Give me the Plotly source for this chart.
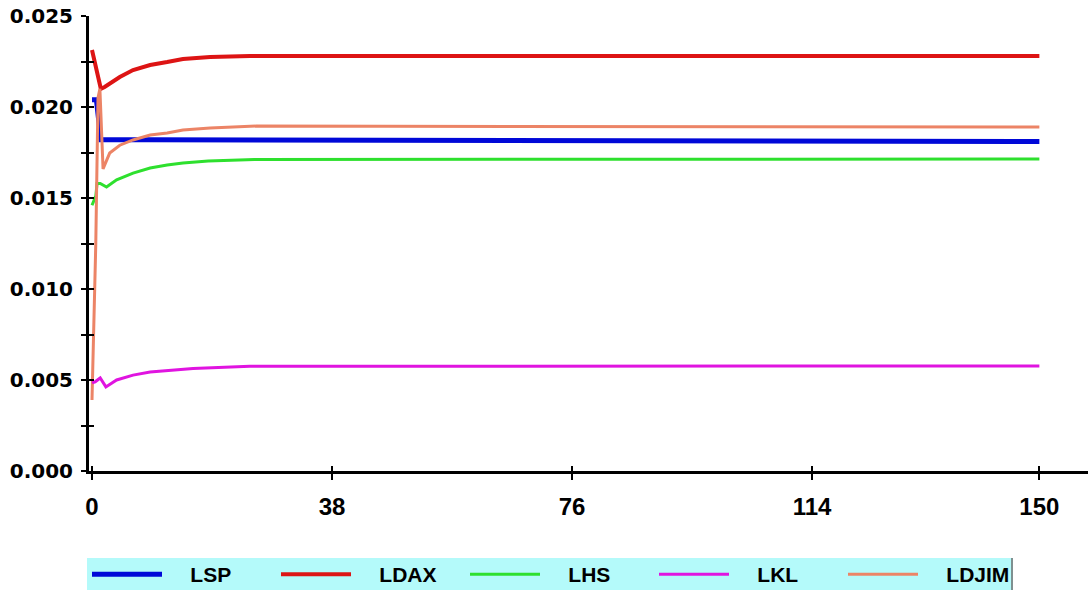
import plotly.graph_objects as go

# ---- data ----
lsp_t = [0, 0.7, 1.4, 9.0, 150]
lsp_v = [0.0204, 0.0204, 0.0182, 0.0182, 0.0181]

ldax_t = [0, 0.5, 1.0, 1.4, 2.0, 3.2, 4.4, 6.5, 9.2, 11.9, 14.4, 18.7, 25, 150]
ldax_v = [0.02313, 0.0223, 0.0216, 0.0210, 0.0211, 0.02137, 0.02165, 0.02203,
          0.02231, 0.02247, 0.02264, 0.02275, 0.0228, 0.0228]

lhs_t = [0, 0.3, 0.6, 0.8, 1.3, 2.3, 3.9, 6.5, 9.2, 11.9, 14.4, 18.4, 25.7, 150]
lhs_v = [0.0146, 0.0149, 0.0151, 0.0158, 0.0158, 0.0156, 0.0160, 0.01637,
         0.01665, 0.01681, 0.01692, 0.01703, 0.01712, 0.01714]

lkl_t = [0, 0.5, 1.3, 2.2, 3.9, 6.5, 9.2, 11.9, 16, 25, 150]
lkl_v = [0.00484, 0.0049, 0.00511, 0.00462, 0.0050, 0.00527, 0.00544,
         0.0055, 0.00563, 0.00575, 0.00577]

ldjim_t = [0, 0.25, 0.6, 0.95, 1.25, 1.75, 2.8, 4.4, 6.5, 9.2, 11.9, 14.4, 18.7, 26, 150]
ldjim_v = [0.0039, 0.0075, 0.0125, 0.0205, 0.0210, 0.0166, 0.01747, 0.0179,
           0.01819, 0.01846, 0.01857, 0.01874, 0.01885, 0.01895, 0.0189]

x_ticks = [0, 38, 76, 114, 150]
y_ticks = [0.000, 0.005, 0.010, 0.015, 0.020, 0.025]
y_tick_labels = ["0.000", "0.005", "0.010", "0.015", "0.020", "0.025"]

# (name, t, values, colour, width, axes) - LKL is drawn on the overlaid twin
# axes (identical ranges) so that the inside half of the crossing ticks is drawn
series = [
    ("LSP", lsp_t, lsp_v, "#0008d8", 5, ("x", "y")),
    ("LDAX", ldax_t, ldax_v, "#dd1414", 4, ("x", "y")),
    ("LHS", lhs_t, lhs_v, "#2ee02e", 3, ("x", "y")),
    ("LKL", lkl_t, lkl_v, "#e014e0", 3, ("x2", "y2")),
    ("LDJIM", ldjim_t, ldjim_v, "#ec8466", 3, ("x", "y")),
]

PAD = "\u00a0" * 4

fig = go.Figure()
for name, t, v, color, w, (xa, ya) in series:
    fig.add_trace(go.Scatter(x=t, y=v, mode="lines", name=PAD + name,
                             xaxis=xa, yaxis=ya,
                             line=dict(color=color, width=w)))

XR = [-0.475, 157.7]
YR = [0, 0.025]

W, H = 1088, 595
L, T, B = 89, 16, 124
PW, PH = W - L, H - T - B


def px(xp):
    return (xp - L) / PW


def py(yp):
    return (T + PH - yp) / PH


fig.update_layout(
    width=W, height=H,
    margin=dict(l=L, r=0, t=T, b=B, pad=0),
    paper_bgcolor="white", plot_bgcolor="white",
    showlegend=True,
    legend=dict(orientation="h", x=px(87), xanchor="left", y=py(554), yanchor="top",
                bgcolor="rgba(0,0,0,0)", borderwidth=0,
                font=dict(family="Liberation Sans", size=21, color="black", weight="bold"),
                itemwidth=70, entrywidth=104, entrywidthmode="pixels",
                traceorder="normal"),
    shapes=[
        dict(type="rect", xref="paper", yref="paper",
             x0=px(87), x1=px(1013), y0=py(558), y1=py(596),
             fillcolor="#b4fafa", line=dict(width=0), layer="below"),
        dict(type="line", xref="paper", yref="paper",
             x0=px(1012), x1=px(1012), y0=py(558), y1=py(596),
             line=dict(color="#7f9090", width=2)),
    ],
    xaxis=dict(range=XR, showgrid=False, zeroline=False, automargin=False,
               showline=True, linecolor="black", linewidth=3,
               tickmode="array", tickvals=x_ticks, ticktext=[str(v) for v in x_ticks],
               ticks="outside", ticklen=6, tickwidth=2, tickcolor="black",
               ticklabelstandoff=6,
               tickfont=dict(family="Liberation Sans", size=24, color="black", weight="bold")),
    yaxis=dict(range=YR, showgrid=False, zeroline=False, automargin=False,
               showline=True, linecolor="black", linewidth=3,
               tickmode="array", tickvals=y_ticks, ticktext=y_tick_labels,
               ticks="outside", ticklen=5, tickwidth=2, tickcolor="black",
               ticklabelstandoff=4,
               minor=dict(ticks="outside", dtick=0.0025, tick0=0, ticklen=5,
                          tickwidth=2, tickcolor="black"),
               tickfont=dict(family="DejaVu Sans", size=20, color="black", weight="bold")),
    xaxis2=dict(range=XR, overlaying="x", anchor="y2", showgrid=False, zeroline=False,
                automargin=False, showline=False, tickmode="array", tickvals=x_ticks,
                ticks="inside", ticklen=5, tickwidth=2, tickcolor="black",
                showticklabels=False),
    yaxis2=dict(range=YR, overlaying="y", anchor="x2", side="left", showgrid=False,
                automargin=False, zeroline=False, showline=False, tickmode="array",
                tickvals=y_ticks, ticks="inside", ticklen=5, tickwidth=2,
                tickcolor="black", showticklabels=False,
                minor=dict(ticks="inside", dtick=0.0025, tick0=0, ticklen=5,
                           tickwidth=2, tickcolor="black")),
)

fig.write_html("out.html",
               config={"displayModeBar": False},
               post_script="document.body.style.margin='0';"
                           "document.body.style.overflow='hidden';")
